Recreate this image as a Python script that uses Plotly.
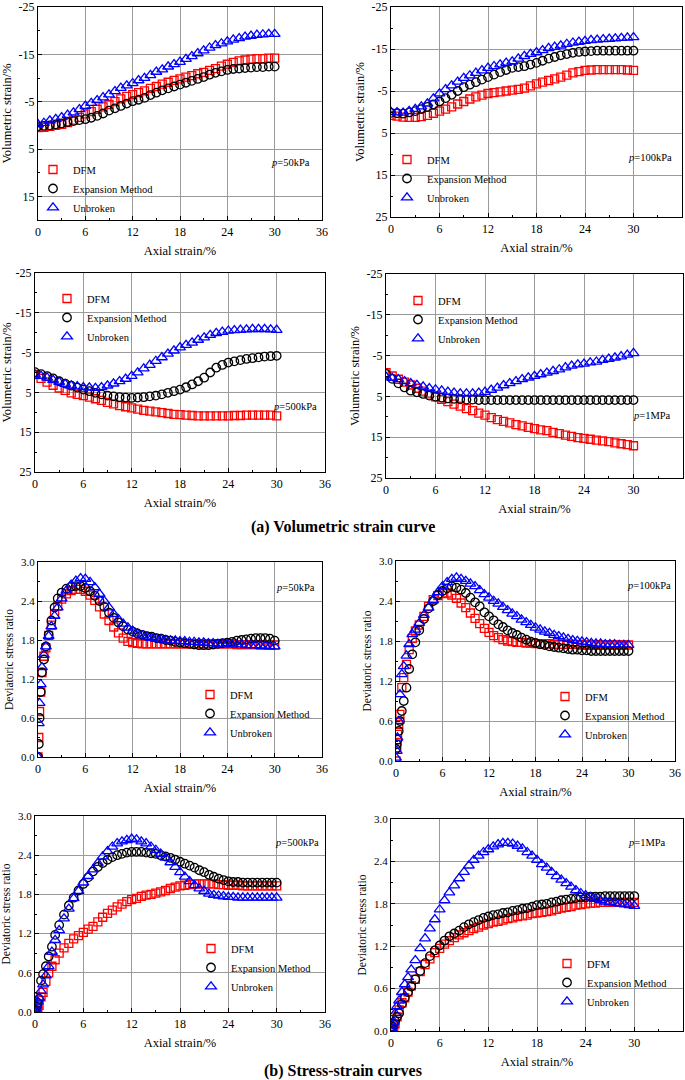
import plotly.graph_objects as go

# ---------------- data ----------------
X_VOL = [0, 0.75, 1.5, 2.25, 3, 3.75, 4.5, 5.25, 6, 6.75, 7.5, 8.25, 9, 9.75, 10.5, 11.25,
         12, 12.75, 13.5, 14.25, 15, 15.75, 16.5, 17.25, 18, 18.75, 19.5, 20.25, 21, 21.75,
         22.5, 23.25, 24, 24.75, 25.5, 26.25, 27, 27.75, 28.5, 29.25, 30]

# p = 50 kPa volumetric
DFM_V50 = [0.5, 0.4, 0.2, 0.0, -0.2, -0.6, -1.1, -1.7, -2.4, -2.9, -3.4, -3.9, -4.4, -5.0, -5.6, -6.1,
           -6.5, -6.9, -7.3, -7.8, -8.2, -8.7, -9.1, -9.5, -9.8, -10.2, -10.5, -10.9, -11.2, -11.6,
           -12.0, -12.5, -12.9, -13.3, -13.6, -13.8, -14.0, -14.1, -14.1, -14.2, -14.2]
EXP_V50 = [0.2, 0.1, 0.0, -0.2, -0.4, -0.7, -0.9, -1.1, -1.3, -1.6, -2.0, -2.5, -3.1, -3.6, -4.1, -4.6,
           -5.1, -5.4, -5.8, -6.4, -6.9, -7.4, -7.8, -8.2, -8.6, -9.0, -9.4, -9.8, -10.2, -10.7,
           -11.1, -11.4, -11.7, -11.9, -12.0, -12.1, -12.2, -12.3, -12.3, -12.4, -12.4]
UNB_V50 = [-0.2, -0.5, -1.0, -1.3, -1.7, -2.2, -2.7, -3.4, -4.1, -4.7, -5.3, -5.9, -6.5, -7.2, -7.9, -8.4,
           -8.9, -9.5, -10.0, -10.6, -11.3, -11.8, -12.4, -12.9, -13.4, -14.0, -14.6, -15.2, -15.8, -16.4,
           -16.9, -17.3, -17.7, -18.1, -18.4, -18.7, -18.9, -19.1, -19.2, -19.3, -19.3]

# p = 100 kPa volumetric
DFM_V100 = [0.8, 1.0, 1.2, 1.3, 1.3, 1.1, 0.8, 0.3, -0.2, -0.7, -1.2, -1.9, -2.5, -3.1, -3.6, -4.0,
            -4.4, -4.6, -4.8, -5.0, -5.2, -5.4, -5.7, -6.2, -6.7, -7.1, -7.5, -7.9, -8.3, -8.8,
            -9.3, -9.6, -9.9, -10.0, -10.1, -10.1, -10.1, -10.1, -10.1, -10.0, -9.9]
EXP_V100 = [0.2, 0.3, 0.4, 0.1, -0.2, -0.7, -1.2, -1.8, -2.5, -3.3, -4.1, -5.0, -5.9, -6.5, -7.1, -7.7,
            -8.3, -8.9, -9.5, -10.0, -10.5, -10.7, -10.9, -11.3, -11.7, -12.2, -12.7, -13.1, -13.5, -13.8,
            -14.1, -14.3, -14.4, -14.5, -14.6, -14.6, -14.6, -14.6, -14.6, -14.6, -14.6]
UNB_V100 = [0.0, 0.1, 0.2, -0.2, -0.7, -1.3, -2.0, -3.2, -4.4, -5.4, -6.3, -7.2, -8.1, -8.7, -9.3, -9.9,
            -10.5, -10.9, -11.3, -11.7, -12.0, -12.7, -13.3, -13.8, -14.2, -14.7, -15.2, -15.5, -15.8, -16.2,
            -16.5, -16.7, -16.9, -17.1, -17.2, -17.3, -17.4, -17.5, -17.6, -17.7, -17.8]

# p = 500 kPa volumetric
DFM_V500 = [0.5, 1.5, 2.4, 3.2, 3.9, 4.5, 5.1, 5.5, 5.8, 6.2, 6.6, 7.0, 7.5, 7.9, 8.3, 8.6,
            8.9, 9.2, 9.5, 9.7, 9.9, 10.1, 10.3, 10.5, 10.6, 10.7, 10.8, 10.9, 10.9, 10.9,
            10.9, 10.9, 10.9, 10.8, 10.8, 10.7, 10.7, 10.7, 10.7, 10.7, 10.9]
EXP_V500 = [-0.1, 0.4, 0.9, 1.5, 2.2, 2.8, 3.3, 3.8, 4.3, 4.7, 5.1, 5.5, 5.8, 6.0, 6.2, 6.3,
            6.4, 6.3, 6.2, 6.0, 5.8, 5.5, 5.1, 4.7, 4.3, 3.7, 3.0, 2.2, 1.3, 0.0,
            -1.2, -1.9, -2.5, -2.8, -3.1, -3.4, -3.6, -3.8, -4.0, -4.1, -4.2]
UNB_V500 = [0.5, 0.9, 1.3, 1.9, 2.4, 2.9, 3.3, 3.5, 3.7, 3.8, 3.9, 3.7, 3.3, 2.8, 2.2, 1.6,
            0.9, 0.0, -1.0, -1.9, -2.9, -3.8, -4.7, -5.5, -6.3, -6.9, -7.5, -8.2, -8.8, -9.4,
            -9.9, -10.2, -10.5, -10.6, -10.7, -10.8, -10.9, -10.9, -10.9, -10.8, -10.7]

# p = 1 MPa volumetric
DFM_V1M = [-0.8, 0.0, 0.8, 1.5, 2.2, 3.0, 3.7, 4.4, 5.1, 5.7, 6.3, 6.9, 7.4, 8.0, 8.5, 9.1,
           9.6, 10.2, 10.7, 11.1, 11.5, 11.9, 12.2, 12.6, 12.9, 13.2, 13.4, 13.8, 14.1, 14.5,
           14.8, 15.1, 15.3, 15.5, 15.7, 15.9, 16.1, 16.4, 16.6, 16.8, 17.1]
EXP_V1M = [-0.5, 0.7, 1.8, 2.8, 3.6, 4.0, 4.4, 4.8, 5.1, 5.3, 5.5, 5.6, 5.7, 5.8, 5.8, 5.9,
           5.9, 5.9, 5.9, 5.9, 5.9, 5.9, 5.9, 5.9, 5.9, 5.9, 5.9, 5.9, 5.9, 5.9,
           5.9, 5.9, 5.9, 5.9, 5.9, 5.9, 5.9, 5.9, 5.9, 5.9, 5.9]
UNB_V1M = [0.2, 0.5, 0.8, 1.3, 1.8, 2.2, 2.6, 3.0, 3.3, 3.6, 3.9, 4.1, 4.3, 4.3, 4.3, 4.1,
           3.9, 3.4, 2.9, 2.3, 1.8, 1.3, 0.8, 0.4, 0.0, -0.4, -0.8, -1.2, -1.6, -2.1,
           -2.5, -2.8, -3.0, -3.3, -3.5, -3.9, -4.2, -4.5, -4.8, -5.2, -5.6]

X_SS = [0, 0.1, 0.2, 0.35, 0.5, 0.75, 1.0, 1.35, 1.7, 2.1, 2.5, 3.0,
        3.6, 4.2, 4.8, 5.4, 6.0, 6.6, 7.2, 7.8, 8.4, 9.0, 9.6, 10.2, 10.8, 11.4,
        12.0, 12.6, 13.2, 13.8, 14.4, 15.0, 15.6, 16.2, 16.8, 17.4, 18.0, 18.6, 19.2, 19.8,
        20.4, 21.0, 21.6, 22.2, 22.8, 23.4, 24.0, 24.6, 25.2, 25.8, 26.4, 27.0, 27.6, 28.2,
        28.8, 29.4, 30.0]

# p = 50 kPa stress ratio
DFM_S50 = [0, 0.30, 0.70, 1.00, 1.30, 1.55, 1.68, 1.87, 2.03, 2.20, 2.32, 2.43,
           2.51, 2.56, 2.58, 2.58, 2.55, 2.49, 2.41, 2.31, 2.20, 2.10, 2.00, 1.91, 1.83, 1.78,
           1.76, 1.75, 1.74, 1.74, 1.74, 1.74, 1.74, 1.74, 1.74, 1.74, 1.74, 1.74, 1.74, 1.74,
           1.74, 1.74, 1.74, 1.74, 1.74, 1.74, 1.74, 1.74, 1.73, 1.73, 1.73, 1.73, 1.73, 1.72,
           1.72, 1.72, 1.72]
EXP_S50 = [0, 0.20, 0.60, 1.00, 1.30, 1.50, 1.70, 1.88, 2.10, 2.30, 2.44, 2.53,
           2.59, 2.62, 2.63, 2.63, 2.60, 2.55, 2.48, 2.40, 2.31, 2.22, 2.14, 2.07, 2.01, 1.96,
           1.93, 1.90, 1.88, 1.86, 1.85, 1.83, 1.82, 1.80, 1.79, 1.77, 1.76, 1.75, 1.74, 1.73,
           1.72, 1.72, 1.72, 1.73, 1.74, 1.75, 1.76, 1.77, 1.79, 1.80, 1.81, 1.82, 1.83, 1.83,
           1.83, 1.82, 1.79]
UNB_S50 = [0, 0.52, 0.83, 1.12, 1.38, 1.57, 1.70, 1.86, 2.01, 2.17, 2.30, 2.44,
           2.56, 2.65, 2.71, 2.75, 2.74, 2.69, 2.61, 2.51, 2.40, 2.30, 2.20, 2.12, 2.05, 1.99,
           1.94, 1.90, 1.87, 1.85, 1.83, 1.82, 1.81, 1.80, 1.79, 1.79, 1.78, 1.78, 1.77, 1.77,
           1.76, 1.76, 1.75, 1.75, 1.74, 1.74, 1.74, 1.73, 1.73, 1.73, 1.72, 1.72, 1.72, 1.71,
           1.71, 1.70, 1.70]

# p = 100 kPa stress ratio
DFM_S100 = [0, 0.20, 0.40, 0.55, 0.70, 1.10, 1.25, 1.45, 1.67, 1.84, 1.95, 2.04,
            2.17, 2.32, 2.42, 2.48, 2.51, 2.52, 2.49, 2.44, 2.37, 2.30, 2.22, 2.14, 2.06, 1.99,
            1.93, 1.88, 1.85, 1.82, 1.80, 1.79, 1.78, 1.78, 1.77, 1.77, 1.76, 1.76, 1.76, 1.76,
            1.75, 1.75, 1.75, 1.75, 1.75, 1.75, 1.74, 1.74, 1.74, 1.74, 1.74, 1.74, 1.74, 1.74,
            1.74, 1.74, 1.74]
EXP_S100 = [0.18, 0.25, 0.32, 0.45, 0.60, 0.75, 0.90, 1.10, 1.38, 1.60, 1.78, 1.96,
            2.13, 2.29, 2.40, 2.49, 2.55, 2.59, 2.62, 2.60, 2.57, 2.52, 2.45, 2.38, 2.32, 2.23,
            2.17, 2.11, 2.05, 2.01, 1.96, 1.92, 1.89, 1.85, 1.82, 1.79, 1.77, 1.75, 1.74, 1.72,
            1.71, 1.70, 1.69, 1.68, 1.67, 1.67, 1.66, 1.66, 1.65, 1.65, 1.65, 1.65, 1.65, 1.65,
            1.65, 1.65, 1.65]
UNB_S100 = [0.05, 0.15, 0.35, 0.60, 1.00, 1.30, 1.42, 1.58, 1.75, 1.90, 1.97, 2.07,
            2.19, 2.30, 2.41, 2.53, 2.62, 2.68, 2.73, 2.75, 2.73, 2.70, 2.66, 2.62, 2.56, 2.50,
            2.45, 2.40, 2.36, 2.31, 2.26, 2.21, 2.17, 2.12, 2.08, 2.04, 2.00, 1.97, 1.94, 1.92,
            1.89, 1.87, 1.85, 1.83, 1.81, 1.80, 1.79, 1.78, 1.77, 1.76, 1.76, 1.75, 1.75, 1.75,
            1.74, 1.74, 1.74]

# p = 500 kPa stress ratio
DFM_S500 = [0, 0.01, 0.02, 0.06, 0.10, 0.23, 0.30, 0.47, 0.60, 0.70, 0.80, 0.90,
            0.98, 1.05, 1.12, 1.17, 1.22, 1.27, 1.31, 1.38, 1.45, 1.51, 1.56, 1.61, 1.65, 1.69,
            1.72, 1.74, 1.77, 1.79, 1.80, 1.82, 1.84, 1.86, 1.89, 1.91, 1.93, 1.94, 1.95, 1.96,
            1.96, 1.96, 1.96, 1.96, 1.95, 1.95, 1.94, 1.94, 1.94, 1.93, 1.93, 1.93, 1.93, 1.93,
            1.93, 1.93, 1.93]
EXP_S500 = [0, 0.04, 0.08, 0.14, 0.20, 0.48, 0.58, 0.70, 0.85, 1.00, 1.18, 1.33,
            1.49, 1.63, 1.75, 1.86, 1.96, 2.06, 2.15, 2.22, 2.28, 2.33, 2.37, 2.40, 2.42, 2.44,
            2.45, 2.45, 2.45, 2.44, 2.43, 2.42, 2.40, 2.38, 2.36, 2.33, 2.30, 2.27, 2.24, 2.21,
            2.17, 2.14, 2.10, 2.07, 2.04, 2.02, 2.00, 1.99, 1.99, 1.98, 1.98, 1.98, 1.98, 1.98,
            1.98, 1.98, 1.98]
UNB_S500 = [0, 0.05, 0.10, 0.16, 0.22, 0.32, 0.42, 0.56, 0.70, 0.92, 1.10, 1.25,
            1.43, 1.58, 1.74, 1.85, 1.98, 2.08, 2.18, 2.28, 2.38, 2.46, 2.53, 2.58, 2.61, 2.63,
            2.65, 2.64, 2.61, 2.58, 2.53, 2.48, 2.42, 2.36, 2.29, 2.22, 2.14, 2.07, 2.00, 1.94,
            1.89, 1.85, 1.81, 1.79, 1.78, 1.77, 1.76, 1.76, 1.75, 1.75, 1.75, 1.75, 1.75, 1.75,
            1.75, 1.75, 1.75]

# p = 1 MPa stress ratio
DFM_S1M = [0, 0.02, 0.04, 0.07, 0.10, 0.20, 0.30, 0.40, 0.47, 0.55, 0.64, 0.73,
           0.84, 0.94, 1.02, 1.11, 1.17, 1.23, 1.28, 1.32, 1.36, 1.39, 1.42, 1.45, 1.47, 1.50,
           1.52, 1.54, 1.55, 1.57, 1.59, 1.60, 1.62, 1.63, 1.64, 1.66, 1.67, 1.68, 1.69, 1.70,
           1.72, 1.74, 1.75, 1.76, 1.78, 1.79, 1.80, 1.81, 1.81, 1.82, 1.82, 1.82, 1.82, 1.82,
           1.82, 1.82, 1.82]
EXP_S1M = [0, 0.03, 0.06, 0.10, 0.14, 0.20, 0.25, 0.38, 0.47, 0.55, 0.63, 0.73,
           0.85, 0.96, 1.06, 1.14, 1.21, 1.28, 1.34, 1.38, 1.42, 1.47, 1.51, 1.54, 1.57, 1.60,
           1.62, 1.64, 1.65, 1.67, 1.68, 1.70, 1.71, 1.73, 1.74, 1.76, 1.78, 1.79, 1.80, 1.82,
           1.83, 1.85, 1.86, 1.87, 1.88, 1.89, 1.89, 1.90, 1.90, 1.90, 1.91, 1.91, 1.91, 1.91,
           1.91, 1.91, 1.91]
UNB_S1M = [0, 0.03, 0.08, 0.13, 0.25, 0.35, 0.43, 0.55, 0.66, 0.76, 0.87, 1.00,
           1.17, 1.31, 1.45, 1.58, 1.72, 1.85, 1.96, 2.06, 2.16, 2.25, 2.34, 2.42, 2.48, 2.53,
           2.57, 2.61, 2.64, 2.66, 2.66, 2.65, 2.62, 2.58, 2.53, 2.48, 2.42, 2.36, 2.31, 2.25,
           2.19, 2.14, 2.09, 2.04, 1.99, 1.95, 1.92, 1.89, 1.87, 1.85, 1.83, 1.82, 1.81, 1.80,
           1.79, 1.78, 1.77]

SERIES_NAMES = ["DFM", "Expansion Method", "Unbroken"]
PRESSURES = ["50kPa", "100kPa", "500kPa", "1MPa"]
X_TICKS = [0, 6, 12, 18, 24, 30, 36]
V_TICKS = [-25, -15, -5, 5, 15, 25]
V_TICK_LABELS = ["-25", "-15", "-5", "5", "15", "25"]
S_TICKS = [0.0, 0.6, 1.2, 1.8, 2.4, 3.0]
X_TITLE = "Axial strain/%"
V_TITLE = "Volumetric strain/%"
S_TITLE = "Deviatoric stress ratio"
SECTION_TITLES = ["(a) Volumetric strain curve", "(b) Stress-strain curves"]

for arr in [DFM_V50, EXP_V50, UNB_V50, DFM_V100, EXP_V100, UNB_V100, DFM_V500, EXP_V500, UNB_V500,
            DFM_V1M, EXP_V1M, UNB_V1M]:
    assert len(arr) == len(X_VOL), len(arr)
for arr in [DFM_S50, EXP_S50, UNB_S50, DFM_S100, EXP_S100, UNB_S100, DFM_S500, EXP_S500, UNB_S500,
            DFM_S1M, EXP_S1M, UNB_S1M]:
    assert len(arr) == len(X_SS), len(arr)

# ---------------- layout / styling ----------------
W, H = 685, 1080
FONT = "Liberation Serif, Times New Roman, serif"
STYLES = [("square-open", "#ff0000", 8), ("circle-open", "#000000", 8.5), ("triangle-up-open", "#0000ff", 9.5)]


def fx(p):
    return p / W


def fy(p):
    return 1 - p / H


panels = [
    dict(box=(38, 322, 7, 220), kind="v", yr=[20, -25], x=X_VOL, ys=(DFM_V50, EXP_V50, UNB_V50),
         lab=(312, 163), leg=(33, 155)),
    dict(box=(391, 682, 7, 217), kind="v", yr=[25, -25], x=X_VOL, ys=(DFM_V100, EXP_V100, UNB_V100),
         lab=(674, 158), leg=(387, 145)),
    dict(box=(35, 325, 273, 472), kind="v", yr=[25, -25], x=X_VOL, ys=(DFM_V500, EXP_V500, UNB_V500),
         lab=(319, 406), leg=(47, 284)),
    dict(box=(386, 683, 274, 478), kind="v", yr=[25, -25], x=X_VOL, ys=(DFM_V1M, EXP_V1M, UNB_V1M),
         lab=(673, 415), leg=(398, 286)),
    dict(box=(38, 322, 562, 757), kind="s", yr=[0, 3], x=X_SS, ys=(DFM_S50, EXP_S50, UNB_S50),
         lab=(317, 587), leg=(190, 680)),
    dict(box=(396, 675, 561, 761), kind="s", yr=[0, 3], x=X_SS, ys=(DFM_S100, EXP_S100, UNB_S100),
         lab=(673, 585), leg=(545, 682)),
    dict(box=(35, 325, 816, 1012), kind="s", yr=[0, 3], x=X_SS, ys=(DFM_S500, EXP_S500, UNB_S500),
         lab=(321, 842), leg=(191, 934)),
    dict(box=(391, 683, 819, 1031), kind="s", yr=[0, 3], x=X_SS, ys=(DFM_S1M, EXP_S1M, UNB_S1M),
         lab=(668, 842), leg=(547, 949)),
]

fig = go.Figure()
layout = dict(
    width=W, height=H, margin=dict(l=0, r=0, t=0, b=0, autoexpand=False),
    paper_bgcolor="white", plot_bgcolor="white",
    font=dict(family=FONT, size=12, color="black"),
    annotations=[], showlegend=True,
)

for i, p in enumerate(panels):
    n = i + 1
    xa = "x" if n == 1 else f"x{n}"
    ya = "y" if n == 1 else f"y{n}"
    leg = "legend" if n == 1 else f"legend{n}"
    x0, x1, y0, y1 = p["box"]
    for (name, (sym, col, size), yv) in zip(SERIES_NAMES, STYLES, p["ys"]):
        fig.add_trace(go.Scatter(
            x=p["x"], y=yv, mode="markers", name=name, xaxis=xa, yaxis=ya, legend=leg,
            marker=dict(symbol=sym, size=size, color=col, line=dict(width=1.3, color=col)),
        ))
    common = dict(showline=True, linecolor="black", linewidth=1.2, mirror=True, automargin=False,
                  showgrid=True, gridcolor="#9a9a9a", gridwidth=1, zeroline=False,
                  ticks="inside", ticklen=4, tickwidth=1, tickcolor="black",
                  tickfont=dict(family=FONT, size=12, color="black"))
    xaxis = dict(common, domain=[fx(x0), fx(x1)], anchor=ya, range=[0, 36],
                 tickmode="array", tickvals=X_TICKS,
                 minor=dict(tickvals=[3, 9, 15, 21, 27, 33], ticks="inside", ticklen=2, showgrid=False),
                 title=dict(text=X_TITLE, font=dict(family=FONT, size=12.5), standoff=8))
    if p["kind"] == "v":
        yaxis = dict(common, domain=[fy(y1), fy(y0)], anchor=xa, range=p["yr"],
                     tickmode="array", tickvals=V_TICKS, ticktext=V_TICK_LABELS,
                     minor=dict(tickvals=[-20, -10, 0, 10, 20], ticks="inside", ticklen=2, showgrid=False),
                     title=dict(text=V_TITLE, font=dict(family=FONT, size=12.5), standoff=4))
    else:
        yaxis = dict(common, domain=[fy(y1), fy(y0)], anchor=xa, range=p["yr"],
                     tickmode="array", tickvals=S_TICKS, tickformat=".1f",
                     minor=dict(tickvals=[0.3, 0.9, 1.5, 2.1, 2.7], ticks="inside", ticklen=2, showgrid=False),
                     title=dict(text=S_TITLE, font=dict(family=FONT, size=11.5), standoff=4))
        yaxis["tickfont"] = dict(family=FONT, size=11, color="black")
    layout["xaxis" if n == 1 else f"xaxis{n}"] = xaxis
    layout["yaxis" if n == 1 else f"yaxis{n}"] = yaxis
    lx, ly = p["leg"]
    layout[leg] = dict(x=fx(lx), y=fy(ly), xanchor="left", yanchor="top",
                       bgcolor="rgba(0,0,0,0)", borderwidth=0, tracegroupgap=0,
                       font=dict(family=FONT, size=10.5, color="black"))
    ax_, ay_ = p["lab"]
    layout["annotations"].append(dict(
        text=f"<i>p</i>={PRESSURES[i % 4]}", x=fx(ax_), y=fy(ay_), xref="paper", yref="paper",
        xanchor="right", yanchor="middle", showarrow=False,
        font=dict(family=FONT, size=10.5, color="black")))

for txt, ypx in zip(SECTION_TITLES, [527, 1071]):
    layout["annotations"].append(dict(
        text=f"<b>{txt}</b>", x=fx(343), y=fy(ypx), xref="paper", yref="paper",
        xanchor="center", yanchor="middle", showarrow=False,
        font=dict(family=FONT, size=16, color="black")))

fig.update_layout(**layout)
fig.write_html("out.html", config={"displayModeBar": False},
               post_script="document.body.style.margin='0px';document.body.style.overflow='hidden';")
